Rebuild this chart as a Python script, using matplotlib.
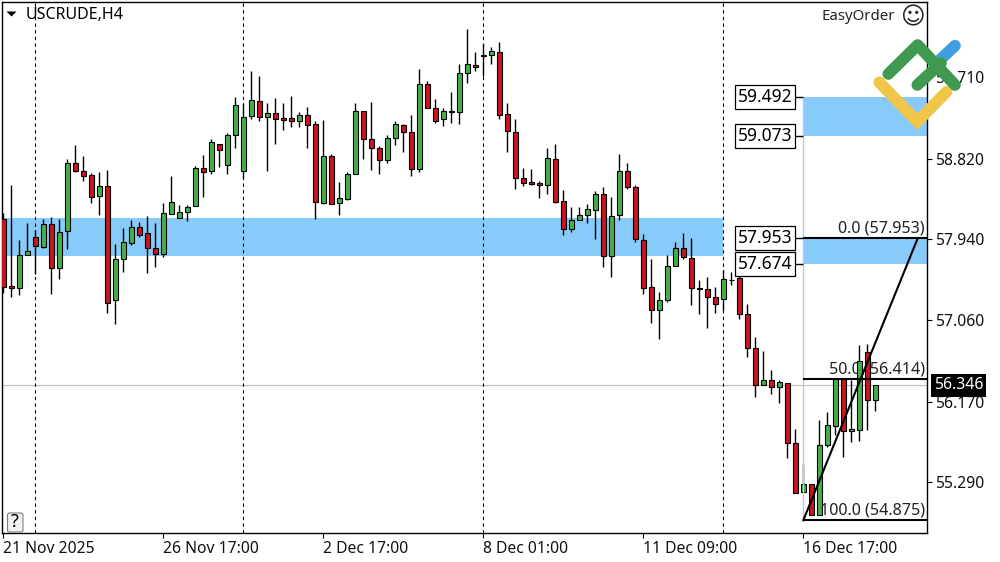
import matplotlib
matplotlib.use('Agg')
import numpy as np
import matplotlib.pyplot as plt
from matplotlib.patches import Rectangle, Polygon, FancyBboxPatch

plt.rcParams['font.family'] = ['Noto Sans', 'DejaVu Sans']

# USCRUDE H4 candles
opens = [58.160,57.432,57.407,57.767,57.971,57.862,58.105,57.625,58.029,58.771,
         58.684,58.640,58.411,58.520,57.276,57.723,57.905,58.073,58.007,57.843,
         57.785,58.215,58.171,58.236,58.302,58.717,58.684,58.979,58.750,59.077,
         58.684,59.285,59.448,59.281,59.317,59.263,59.263,59.237,59.295,59.197,
         58.338,58.848,58.335,58.386,58.651,59.339,59.033,58.935,58.804,59.044,
         59.186,59.110,58.706,59.634,59.372,59.252,59.335,59.328,59.754,59.841,
         59.947,59.950,59.983,59.306,59.110,58.608,58.564,58.553,58.531,58.815,
         58.357,58.051,58.149,58.204,58.258,58.433,57.756,58.204,58.684,58.509,
         57.931,57.418,57.167,57.276,57.647,57.843,57.734,57.407,57.396,57.309,
         57.287,57.494,57.516,57.123,56.752,56.355,56.402,56.326,56.370,55.715,
         55.180,55.267,54.932,55.700,55.900,56.413,55.846,55.864,56.708,56.184]
highs = [58.226,58.535,57.934,58.124,58.044,58.167,58.182,58.167,58.819,58.972,
         58.855,58.662,58.677,58.699,57.891,58.069,58.153,58.131,58.196,58.120,
         58.335,58.633,58.317,58.317,58.742,58.862,59.033,58.979,59.099,59.496,
         59.426,59.779,59.725,59.426,59.485,59.430,59.507,59.328,59.383,59.230,
         59.244,58.870,58.564,58.673,59.426,59.339,59.441,58.957,59.077,59.230,
         59.197,59.295,59.798,59.667,59.470,59.372,59.547,59.856,60.238,59.987,
         60.074,60.038,60.092,59.426,59.252,58.717,58.706,58.575,58.935,58.979,
         58.477,58.291,58.291,58.327,58.466,58.509,58.404,58.873,58.771,58.535,
         57.996,57.723,57.363,57.767,57.909,58.014,57.956,57.494,57.527,57.421,
         57.607,57.581,57.571,57.236,56.875,56.726,56.515,56.402,56.370,55.867,
         55.489,55.267,55.969,56.053,56.413,56.413,56.406,56.788,56.795,56.348]
lows = [57.359,57.316,57.338,57.767,57.560,57.851,57.349,57.505,57.840,58.677,
        58.582,58.342,58.211,57.137,57.021,57.589,57.883,57.971,57.578,57.643,
        57.752,58.215,58.171,58.145,58.302,58.407,58.655,58.735,58.655,58.940,
        58.608,59.252,59.230,58.688,58.986,59.139,59.172,59.172,58.939,58.160,
        58.324,58.324,58.211,58.375,58.651,58.822,58.702,58.655,58.779,58.975,
        58.899,58.637,58.680,59.372,59.215,59.179,59.215,59.201,59.652,59.783,
        59.725,59.859,59.252,58.899,58.495,58.528,58.538,58.397,58.440,58.342,
        57.993,58.025,58.149,58.116,57.945,57.640,57.534,58.153,58.495,57.916,
        57.349,57.032,56.850,57.261,57.647,57.723,57.225,57.130,56.977,57.137,
        57.170,57.443,57.072,56.661,56.224,56.355,56.257,56.151,55.558,55.169,
        55.180,54.929,54.932,55.671,55.806,55.562,55.733,55.740,55.857,56.068]
closes = [57.418,57.407,57.767,57.811,57.865,58.105,57.625,58.018,58.771,58.684,
          58.637,58.407,58.520,57.243,57.723,57.909,58.073,57.993,57.843,57.785,
          58.226,58.346,58.236,58.291,58.717,58.673,59.001,58.913,59.077,59.405,
          59.274,59.459,59.274,59.317,59.252,59.248,59.237,59.295,59.186,58.346,
          58.848,58.331,58.389,58.651,59.339,59.033,58.935,58.804,59.044,59.197,
          59.110,58.706,59.634,59.372,59.237,59.339,59.339,59.754,59.852,59.819,
          59.950,59.994,59.295,59.121,58.608,58.553,58.549,58.531,58.826,58.353,
          58.051,58.149,58.204,58.269,58.433,57.756,58.193,58.684,58.509,57.942,
          57.407,57.167,57.276,57.647,57.843,57.745,57.407,57.396,57.309,57.232,
          57.505,57.498,57.123,56.752,56.355,56.402,56.326,56.381,55.715,55.176,
          55.267,54.932,55.693,55.911,56.413,55.846,55.867,56.610,56.184,56.348]

date_pos = [0, 20, 40, 60, 80, 100]
date_labels = ['21 Nov 2025', '26 Nov 17:00', '2 Dec 17:00', '8 Dec 01:00', '11 Dec 09:00', '16 Dec 17:00']
separators = [4, 30, 60, 90]
price_ticks = [59.710, 58.820, 57.940, 57.060, 56.170, 55.290]

left_zone = [57.760, 58.175]
zones = [[59.073, 59.492], [57.674, 57.953]]
box_levels = [59.492, 59.073, 57.953, 57.674]
fib_levels = [57.953, 56.414, 54.875]
fib_names = ['0.0', '50.0', '100.0']
last_price = 56.346

GREEN = '#43B04B'
RED = '#C8161E'
ZONE = '#88CBFA'

fig = plt.figure(figsize=(10, 5.62), dpi=100)
ax = fig.add_axes([2/1000, 1-533/562, 925/1000, 531/562])
ax.set_xlim(-0.1625, 115.46)
ax.set_ylim(54.7356, 60.5327)

idx = np.arange(len(opens))
opens = np.array(opens)
closes = np.array(closes)

# zones
ax.axhspan(left_zone[0], left_zone[1], xmin=0, xmax=(90+0.1625)/115.6225, color=ZONE, lw=0, zorder=1)
for lo, hi in zones:
    ax.fill_between([100, 115.46], lo, hi, color=ZONE, lw=0, zorder=1)

ax.axhline(last_price, color='#BEBEBE', lw=0.8, zorder=1.5)
for s in separators:
    ax.axvline(s, color='black', lw=0.8, ls=(0, (3, 3)), zorder=2)

# fibo labels sit behind the candles
for lev, name in zip(fib_levels, fib_names):
    ax.text(115.2, lev+0.015, '%s (%.3f)' % (name, lev), ha='right', va='bottom', fontsize=11.6, color='#222222', zorder=3.5)

# candles
cols = [GREEN if c >= o else RED for o, c in zip(opens, closes)]
ax.vlines(idx, lows, highs, color='black', lw=1.0, zorder=3.6)
ax.bar(idx, np.abs(closes-opens), bottom=np.minimum(opens, closes), width=0.62,
       color=cols, edgecolor='black', lw=0.8, zorder=4)

# fibo + boxes
ax.vlines(100, fib_levels[2], box_levels[0], color='#A9CFE6', lw=1, zorder=5)
for lev in fib_levels:
    ax.hlines(lev, 100, 115.46, color='black', lw=1.5, zorder=6)
ax.plot([100, 114.3], [fib_levels[2], fib_levels[0]], color='black', lw=1.5, zorder=6)
for lev in box_levels:
    ax.hlines(lev, 98.7, 100, color='black', lw=1, zorder=5)
    ax.text(98.65, lev, '%.3f' % lev, ha='right', va='center', fontsize=12.5, color='black', zorder=8,
            bbox=dict(boxstyle='square,pad=0.17', fc='white', ec='black', lw=0.9))

ax.yaxis.tick_right()
ax.set_yticks(price_ticks)
ax.set_yticklabels(['%.3f' % p for p in price_ticks], fontsize=11.3, color='#111111')
ax.tick_params(axis='y', length=3.6, width=0.8, pad=2.5)
ax.set_xticks(date_pos)
ax.set_xticklabels(date_labels, fontsize=11.3, ha='left', color='#111111')
ax.tick_params(axis='x', length=3.6, width=0.8, pad=2.5)
for sp in ax.spines.values():
    sp.set_linewidth(1.0)

ax.text(1.0075, (last_price-54.7356)/(60.5327-54.7356), '%.3f' % last_price, transform=ax.transAxes,
        ha='left', va='center', fontsize=11.3, color='white', zorder=9, clip_on=False,
        bbox=dict(boxstyle='square,pad=0.2', fc='black', ec='black', lw=0))

# overlay in pixels for the terminal decorations and logo
ov = fig.add_axes([0, 0, 1, 1], zorder=10)
ov.set_xlim(0, 1000)
ov.set_ylim(562, 0)
ov.axis('off')
ov.add_patch(Polygon([(6.5, 11.5), (16.5, 11.5), (11.5, 16.5)], closed=True, fc='black', ec='none'))
ov.text(26, 15, 'USCRUDE,H4', fontsize=11.5, va='center', ha='left', color='black')
ov.text(895, 16, 'EasyOrder', fontsize=10.8, va='center', ha='right', color='#222222')
ov.text(912, 17, '\u263A', fontsize=17, va='center', ha='center', family='DejaVu Sans', color='#222222')
ov.add_patch(FancyBboxPatch((7.5, 513), 15.5, 19, boxstyle='round,pad=0,rounding_size=2', fc='#F0F0F0', ec='#808080', lw=0.8))
ov.text(15, 522, '?', fontsize=13, ha='center', va='center', color='black')

logo_w = 8.4
ov.plot([938, 955], [61.7, 45.7], color='#3F9FE0', lw=logo_w, solid_capstyle='round')
ov.plot([879.3, 917.3, 946.7], [82.3, 121.7, 91.7], color='#F0C64A', lw=logo_w, solid_capstyle='round', solid_joinstyle='miter')
ov.plot([888.3, 917.7, 955], [74, 45, 85], color='#3F9A4F', lw=logo_w, solid_capstyle='round', solid_joinstyle='round')
ov.plot([917.3, 941], [85, 63], color='#3F9A4F', lw=logo_w, solid_capstyle='round')

fig.savefig('out.png', dpi=100)
